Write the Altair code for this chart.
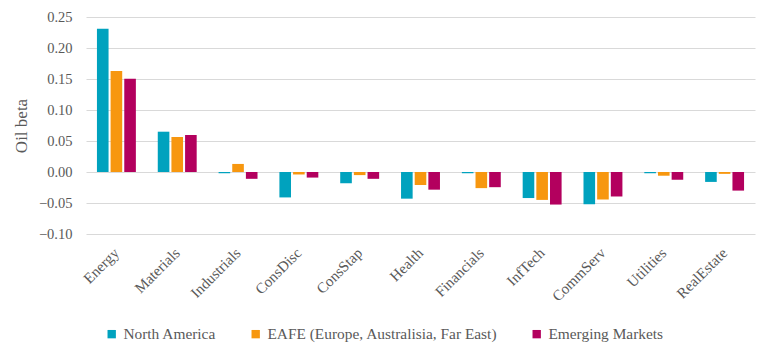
import altair as alt
import pandas as pd

sectors = ["Energy", "Materials", "Industrials", "ConsDisc", "ConsStap", "Health",
           "Financials", "InfTech", "CommServ", "Utilities", "RealEstate"]
regions = ["North America", "EAFE (Europe, Australisia, Far East)", "Emerging Markets"]
north_america = [0.231, 0.065, -0.002, -0.041, -0.018, -0.043, -0.002, -0.042, -0.052, -0.002, -0.016]
eafe = [0.163, 0.0565, 0.013, -0.004, -0.005, -0.021, -0.026, -0.045, -0.0445, -0.006, -0.003]
emerging = [0.1505, 0.0597, -0.011, -0.009, -0.011, -0.0285, -0.0245, -0.0525, -0.0395, -0.0125, -0.030]
colors = ["#00A2BE", "#F7970F", "#B3005E"]
y_ticks = [-0.10, -0.05, 0.0, 0.05, 0.10, 0.15, 0.20, 0.25]

rows = []
for series, vals in zip(regions, [north_america, eafe, emerging]):
    for s, v in zip(sectors, vals):
        rows.append({"sector": s, "region": series, "beta": v})
df = pd.DataFrame(rows)

FONT = "serif"
GREY = "#595959"

chart = alt.Chart(df).mark_bar().encode(
    x=alt.X("sector:N", sort=sectors, title=None,
            scale=alt.Scale(paddingInner=0.36, paddingOuter=0.18),
            axis=alt.Axis(labelAngle=-45, labelAlign="right", labelBaseline="middle",
                          labelPadding=16, domain=False, ticks=False, grid=False,
                          labelFont=FONT, labelFontSize=15, labelColor=GREY)),
    xOffset=alt.XOffset("region:N", sort=regions,
                        scale=alt.Scale(paddingInner=0.15)),
    y=alt.Y("beta:Q", title="Oil beta",
            scale=alt.Scale(domain=[-0.10, 0.25], nice=False, zero=False),
            axis=alt.Axis(values=y_ticks, format=".2f", domain=False, ticks=False,
                          gridColor="#D9D9D9", gridWidth=1, labelPadding=14,
                          labelFont=FONT, labelFontSize=14.5, labelColor=GREY,
                          titleFont=FONT, titleFontSize=17, titleColor=GREY,
                          titleFontWeight="normal", titlePadding=8)),
    color=alt.Color("region:N", sort=regions,
                    scale=alt.Scale(domain=regions, range=colors),
                    legend=alt.Legend(title=None, orient="none", direction="horizontal",
                                      legendX=18, legendY=309, symbolType="square",
                                      symbolSize=70, symbolStrokeWidth=0,
                                      symbolOffset=0, labelOffset=4,
                                      columnPadding=31,
                                      labelFont=FONT, labelFontSize=15.4, labelColor=GREY,
                                      labelLimit=400)),
).properties(
    width=669, height=217,
    autosize=alt.AutoSizeParams(type="none"),
    padding={"left": 86, "top": 17, "right": 4, "bottom": 116},
).configure_view(stroke=None)

chart.save("out.html", embed_options={"renderer": "svg", "actions": False})
